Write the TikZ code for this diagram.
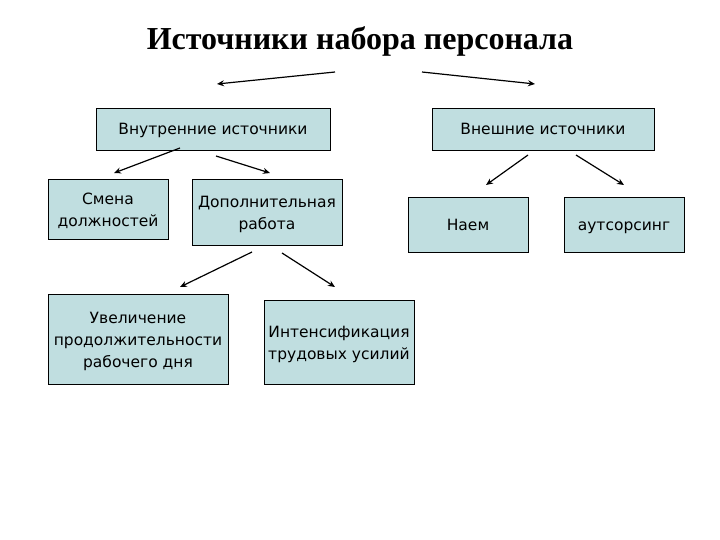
\documentclass[tikz,border=0pt]{standalone}
\usepackage{fontspec}
\setmainfont{DejaVu Sans}
\newfontfamily\titlefont{Liberation Serif}
\usetikzlibrary{arrows.meta}
\definecolor{boxfill}{RGB}{192,222,224}
\newcommand{\topstrut}{\rule{0pt}{16pt}}
\tikzset{
  box/.style={draw=black, line width=0.8pt, fill=boxfill, inner sep=0pt, align=center,
    font=\fontsize{15.5}{22}\selectfont},
  oneline/.style={text height=12.5pt, text depth=1.5pt},
  arr/.style={draw=black, line width=1.2pt, -{Stealth[length=7pt,width=6pt]}}
}
\begin{document}
\begin{tikzpicture}[x=1pt,y=-1pt]
\useasboundingbox (0,0) rectangle (720,540);
\node[font=\titlefont\bfseries\fontsize{32}{38}\selectfont] (title) at (360,41) {Источники набора персонала};

\node[box, oneline, minimum width=234pt, minimum height=42pt] (inner) at (213,129) {Внутренние источники};
\node[box, oneline, minimum width=222pt, minimum height=42pt] (outer) at (543,129) {Внешние источники};
\node[box, minimum width=120pt, minimum height=60pt] (smena) at (108,209) {\topstrut Смена\\должностей};
\node[box, minimum width=150pt, minimum height=66pt] (dop) at (267,212) {\topstrut Дополнительная\\работа};
\node[box, oneline, minimum width=120pt, minimum height=55pt] (naem) at (468,225) {Наем};
\node[box, oneline, minimum width=120pt, minimum height=55pt] (outs) at (624,225) {аутсорсинг};
\node[box, minimum width=180pt, minimum height=90pt] (uvel) at (138,339) {\topstrut Увеличение\\продолжительности\\рабочего дня};
\node[box, minimum width=150pt, minimum height=84pt] (intens) at (339,342) {\topstrut Интенсификация\\трудовых усилий};

\coordinate (t1s) at (335,72); \coordinate (t1e) at (217,84);
\coordinate (t2s) at (422,72); \coordinate (t2e) at (535,84);
\coordinate (i1s) at (180,148); \coordinate (i1e) at (114,173);
\coordinate (i2s) at (216,156); \coordinate (i2e) at (270,173);
\coordinate (o1s) at (528,155); \coordinate (o1e) at (486,185);
\coordinate (o2s) at (576,155); \coordinate (o2e) at (624,185);
\coordinate (d1s) at (252,252); \coordinate (d1e) at (180,287);
\coordinate (d2s) at (282,253); \coordinate (d2e) at (335,287);

\draw[arr] (t1s) -- (t1e);
\draw[arr] (t2s) -- (t2e);
\draw[arr] (i1s) -- (i1e);
\draw[arr] (i2s) -- (i2e);
\draw[arr] (o1s) -- (o1e);
\draw[arr] (o2s) -- (o2e);
\draw[arr] (d1s) -- (d1e);
\draw[arr] (d2s) -- (d2e);
\end{tikzpicture}
\end{document}
